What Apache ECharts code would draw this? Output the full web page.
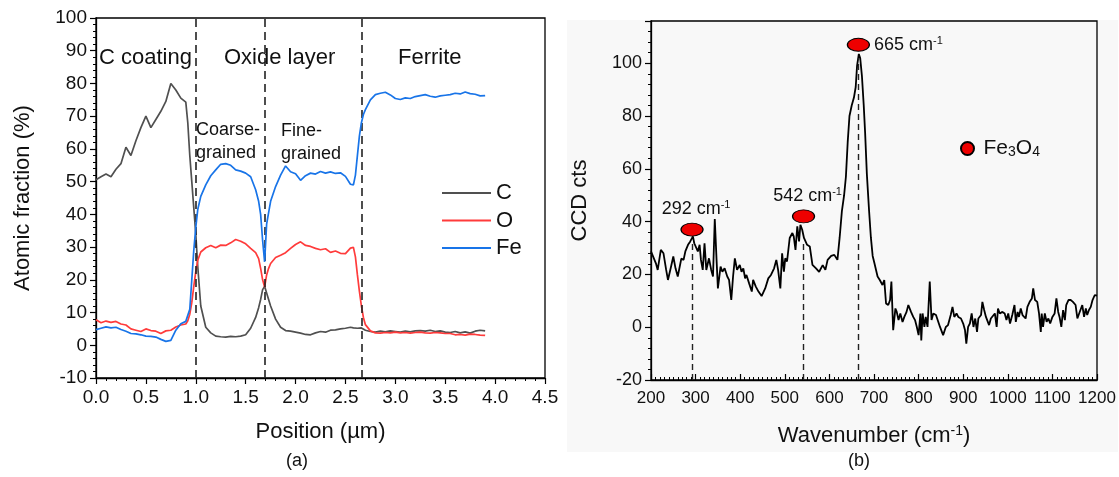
<!DOCTYPE html>
<html>
<head>
<meta charset="utf-8">
<script src="https://cdn.jsdelivr.net/npm/echarts@6/dist/echarts.min.js"></script>
<style>
html,body{margin:0;padding:0;background:#fff;}
#chart{width:1119px;height:477px;}
</style>
</head>
<body>
<div id="chart"></div>
<script>
// ---------- Panel (a): EDS line profile ----------
const positions = [0,0.05,0.1,0.15,0.2,0.25,0.3,0.35,0.4,0.45,0.5,0.55,0.6,0.65,0.7,0.75,0.8,0.85,0.9,
  0.92,0.94,0.96,0.98,1.0,1.02,1.05,
  1.1,1.15,1.2,1.25,1.3,1.35,1.4,1.45,1.5,1.55,1.6,
  1.63,1.65,1.67,1.69,1.71,1.73,1.75,
  1.8,1.85,1.9,1.95,2.0,2.05,2.1,2.15,2.2,2.25,2.3,2.35,2.4,2.45,2.5,2.55,
  2.58,2.6,2.62,2.64,2.66,2.68,2.7,
  2.75,2.8,2.85,2.9,2.95,3.0,3.05,3.1,3.15,3.2,3.25,3.3,3.35,3.4,3.45,3.5,3.55,3.6,3.65,3.7,3.75,3.8,3.85,3.9];
const carbon = [50.6,51.5,52.3,51.5,53.8,55.5,60.5,58,62.5,66.5,70,66.5,69,71.5,74.5,80,78,75.5,74.3,
  68,58,50,42,34,24,12,
  5.5,3.8,2.8,2.6,2.5,2.7,2.6,2.8,3.2,5.2,8.5,
  11.5,14,17,18,16,14,12,
  8,5.5,4.5,4.3,4,3.7,3.3,3.2,3.8,4.2,4,4.6,4.7,5,5.2,5.5,
  5.3,5.6,5.2,5.4,5.3,5,4.6,
  4.2,4,4.3,4.1,4.4,4.2,4,4.3,4.1,4.4,4.5,4.3,4.6,4.2,4.4,4,3.9,4.2,3.8,4.1,3.7,4.3,4.6,4.4];
const oxygen = [7.8,6.9,7.4,7,7.3,6.5,6.2,5,4.6,4.2,5,4.5,4.3,3.6,4.4,4.6,5.6,6.2,6.5,
  7.5,9.5,13,18,22.5,26,28.5,
  29.8,30.5,29.8,30.6,30.5,31.3,32.3,31.8,31,29.6,28.3,
  26.5,23.5,20,17.8,21.5,23.5,25,
  26.8,27.5,28.3,29.6,30.8,31.6,30.5,30.2,29.6,29.2,29.5,28.4,28.8,28.1,28,29.7,
  29.9,27,21.5,16.5,12,8.5,6.3,
  4.4,3.8,3.7,3.9,3.8,4,3.8,3.9,3.7,3.9,4,3.8,3.7,3.9,3.8,3.6,3.6,3.2,3.3,3.1,3.4,3.3,3.1,3];
const iron = [4.8,5.2,5.6,5.3,5.5,4.8,4.3,3.6,3.5,3.2,2.8,2.7,2.5,1.8,1.2,1.5,4.6,6.6,7.3,
  7.8,11,20,29,36,41.5,45.5,
  49,51.8,53.6,55.3,55.5,55,53.6,53.2,52.6,51.5,47.5,
  44,40,32,25.5,37,40.5,44,
  48.5,52,54.8,53,52.4,50.4,51.8,52.6,52.3,53.1,52.6,53,52.5,52.7,51.6,49.2,
  49,52,58,64,68,70.5,72,
  75,76.6,77,77.3,76.5,75.4,75.1,75.6,75.4,76,76.3,76.6,76.1,75.8,76.2,76.4,76.6,77,76.8,77.4,76.9,76.7,76.2,76.3];
const boundaries = [1.0, 1.69, 2.66];
const seriesNamesA = ['C', 'O', 'Fe'];
const xTicksA = [0, 4.5, 0.5];       // min, max, interval
const yTicksA = [-10, 100, 10];

// ---------- Panel (b): Raman spectrum ----------
const wavenumbers = [200,204,211,215,222,228,234,238,245,250,255,260,268,273,277,283,288,294,297,301,305,309,312,316,320,324,330,335,339,343,347,350,356,360,365,371,375,380,384,388,393,399,403,407,411,414,420,426,429,435,441,448,456,463,469,473,476,481,485,490,494,498,501,505,511,517,520,524,528,532,535,539,543,547,550,556,562,570,577,585,591,596,604,611,618,623,628,633,637,641,645,650,655,659,662,666,669,673,677,680,684,689,693,697,701,704,708,713,719,723,727,732,736,739,743,748,751,755,759,764,768,773,777,783,788,792,796,800,804,806,809,813,816,820,825,829,833,839,842,848,855,861,866,872,876,880,885,889,895,900,904,907,911,915,919,923,927,931,934,940,943,947,951,954,958,962,966,971,975,978,982,988,993,997,1001,1005,1010,1015,1018,1022,1025,1029,1033,1037,1040,1044,1049,1054,1057,1061,1066,1070,1074,1076,1079,1083,1087,1091,1095,1100,1105,1109,1113,1116,1120,1124,1128,1131,1136,1141,1146,1152,1156,1160,1163,1167,1171,1175,1178,1182,1186,1190,1195,1200];
const counts = [28.7,28.7,24.2,21.7,29.3,28,21.7,17.9,23,26.8,22.3,19.2,26,25.5,28.7,31.2,32.5,34.4,31.8,32.5,28.7,31.2,25.5,21.7,31.8,21.7,26.1,21.7,19.2,41,25.5,14.7,23,21,22.3,19.2,17.9,10.3,19.2,26.1,21.7,23.6,21,22.3,18.5,19.8,16.6,13.5,17.9,15.4,13.5,11.8,14.7,18.5,19.8,19.2,22.3,25.5,21.7,14.7,28,21,26.1,24.9,33.8,35.7,34.4,29.3,38.2,32.5,38.8,36.9,33.8,34.4,31.2,30.6,23.6,22.3,21,23.5,21.7,25.5,27,27.4,25.5,34,44,50,57,70,80,84,87,91,99,103.5,102,95,84,74,58,44,34,27,24.2,23.6,19.2,17.9,16,17.9,9,8.4,10.3,17.3,-1.1,7.1,5.8,2.7,5.2,2,3.9,5.8,8.4,5.8,3.9,2.7,0.1,-3,5.2,-5,5.2,0.1,3.9,0.1,17.3,2.7,5.2,4.6,3.9,0.1,-3,0.1,0.8,4.6,7.7,3.9,5.2,3.9,3.3,1.4,-1.1,-6.2,0.1,1.4,5.2,0.1,3.3,-1.8,3.3,4.6,9.6,6.5,3.9,4.6,0.8,3.3,3.9,5.2,0.1,7.1,5.2,5.8,5.2,2.7,5.2,1.4,4.6,8.4,2,5.8,3.9,7.1,4.6,5.2,3.3,7.7,9.6,10.9,14.7,10.3,9.6,5.2,-1.8,5.2,0.1,5.2,2,3.3,1.4,3.9,5.2,10.9,5.8,3.9,0.1,6.5,2.7,8.4,10.3,10.3,9.6,8.4,3.3,5.2,5.2,8.4,3.9,7.1,4.6,6.5,7.7,10.3,12.2,12];
const peakWavenumbers = [292, 542, 665];
const peakMarkerHeights = [37, 42, 107];
const peakLineTops = [32, 32, 102];
const peakLabels = ['292', '542', '665'];
const phaseName = 'Fe3O4';
const xTicksB = [200, 1200, 100];
const yTicksB = [-20, 116, 20];

// ---------- build ----------
const FONT = 'Liberation Sans, Arial, sans-serif';
const colorsA = ['#505050', '#ff3b3b', '#1874e8'];
const valuesA = [carbon, oxygen, iron];

function pairs(xs, ys){ return xs.map((x, i) => [x, ys[i]]); }

const chart = echarts.init(document.getElementById('chart'), null, {renderer: 'canvas'});

const axisCommon = {
  axisLine: {show: true, onZero: false, lineStyle: {color: '#000', width: 1.3}},
  splitLine: {show: false},
  axisLabel: {color: '#111', fontFamily: FONT, fontSize: 19},
  nameTextStyle: {color: '#111', fontFamily: FONT, fontSize: 22}
};

const option = {
  animation: false,
  backgroundColor: '#fff',
  textStyle: {fontFamily: FONT},
  graphic: [
    {type: 'rect', z: -100, shape: {x: 567, y: 20, width: 551, height: 432}, style: {fill: '#f8f8f8'}, silent: true},
    {type: 'text', left: 99, top: 47, style: {text: 'C coating', font: '22px ' + FONT, fill: '#111'}},
    {type: 'text', left: 224, top: 47, style: {text: 'Oxide layer', font: '22px ' + FONT, fill: '#111'}},
    {type: 'text', left: 398, top: 47, style: {text: 'Ferrite', font: '22px ' + FONT, fill: '#111'}},
    {type: 'text', left: 196, top: 119, style: {text: 'Coarse-\ngrained', font: '18px ' + FONT, lineHeight: 23, fill: '#111'}},
    {type: 'text', left: 281, top: 120, style: {text: 'Fine-\ngrained', font: '18px ' + FONT, lineHeight: 23, fill: '#111'}},
    {type: 'text', left: 286, top: 452, style: {text: '(a)', font: '18px ' + FONT, fill: '#111'}},
    {type: 'text', left: 848, top: 452, style: {text: '(b)', font: '18px ' + FONT, fill: '#111'}}
  ],
  grid: [
    {left: 96, top: 18, width: 449, height: 360, show: true, borderColor: '#000', borderWidth: 1.3, backgroundColor: 'transparent'},
    {left: 651, top: 21, width: 446, height: 359, show: true, borderColor: '#000', borderWidth: 1.3, backgroundColor: 'transparent'}
  ],
  legend: [
    {
      data: seriesNamesA, orient: 'vertical', left: 437, top: 177,
      itemWidth: 49, itemHeight: 2, itemGap: 5.5, icon: 'rect',
      textStyle: {fontSize: 22, color: '#111', fontFamily: FONT, lineHeight: 22}
    },
    {
      data: [{name: phaseName, icon: 'circle'}], left: 955, top: 133,
      itemWidth: 22, itemHeight: 13, itemGap: 5,
      formatter: () => '{n|Fe}{s|3}{n|O}{s|4}',
      textStyle: {fontSize: 21, color: '#111', fontFamily: FONT,
        rich: {
          n: {fontSize: 21, fontFamily: FONT, color: '#111'},
          s: {fontSize: 14, fontFamily: FONT, color: '#111', verticalAlign: 'bottom'}
        }}
    }
  ],
  xAxis: [
    Object.assign({}, axisCommon, {
      gridIndex: 0, type: 'value', min: xTicksA[0], max: xTicksA[1], interval: xTicksA[2],
      name: 'Position (\u00b5m)', nameLocation: 'middle', nameGap: 43,
      axisTick: {show: true, inside: false, length: 6, lineStyle: {color: '#000', width: 1.2}},
      minorTick: {show: true, splitNumber: 5, length: 3, lineStyle: {color: '#000', width: 1}},
      axisLabel: Object.assign({}, axisCommon.axisLabel, {margin: 10, formatter: v => v.toFixed(1)})
    }),
    Object.assign({}, axisCommon, {
      gridIndex: 1, type: 'value', min: xTicksB[0], max: xTicksB[1], interval: xTicksB[2],
      name: 'Wavenumber (cm{sup|-1})', nameLocation: 'middle', nameGap: 44,
      nameTextStyle: {color: '#111', fontFamily: FONT, fontSize: 22, rich: {sup: {fontSize: 14, fontFamily: FONT, verticalAlign: 'top', padding: [0, 0, 10, 0]}}},
      axisTick: {show: true, inside: true, length: 6, lineStyle: {color: '#000', width: 1.2}},
      minorTick: {show: true, splitNumber: 10, length: 3, lineStyle: {color: '#000', width: 1}},
      axisLabel: Object.assign({}, axisCommon.axisLabel, {margin: 10, fontSize: 17, hideOverlap: false,
        showMinLabel: true, showMaxLabel: true, formatter: v => String(v)})
    })
  ],
  yAxis: [
    Object.assign({}, axisCommon, {
      gridIndex: 0, type: 'value', min: yTicksA[0], max: yTicksA[1], interval: yTicksA[2],
      name: 'Atomic fraction (%)', nameLocation: 'middle', nameGap: 62,
      axisTick: {show: true, inside: false, length: 6, lineStyle: {color: '#000', width: 1.2}},
      minorTick: {show: true, splitNumber: 5, length: 3, lineStyle: {color: '#000', width: 1}},
      axisLabel: Object.assign({}, axisCommon.axisLabel, {margin: 9})
    }),
    Object.assign({}, axisCommon, {
      gridIndex: 1, type: 'value', min: yTicksB[0], max: yTicksB[1], interval: yTicksB[2],
      name: 'CCD cts', nameLocation: 'middle', nameGap: 60,
      axisTick: {show: true, inside: false, length: 6, lineStyle: {color: '#000', width: 1.2}},
      minorTick: {show: true, splitNumber: 5, length: 3, lineStyle: {color: '#000', width: 1}},
      axisLabel: Object.assign({}, axisCommon.axisLabel, {margin: 9, fontSize: 18, showMaxLabel: false,
        formatter: v => (v % 20 === 0 ? String(v) : '')})
    })
  ],
  series: [
    ...seriesNamesA.map((name, k) => ({
      name, type: 'line', xAxisIndex: 0, yAxisIndex: 0,
      data: pairs(positions, valuesA[k]), symbol: 'none', smooth: false,
      lineStyle: {color: colorsA[k], width: 1.7}, itemStyle: {color: colorsA[k]},
      z: 3 + k,
      markLine: k === 0 ? {
        silent: true, symbol: 'none', label: {show: false},
        lineStyle: {color: '#222', type: [8, 5], width: 1.6},
        data: boundaries.map(b => ({xAxis: b}))
      } : undefined
    })),
    {
      name: 'spectrum', type: 'line', xAxisIndex: 1, yAxisIndex: 1,
      data: pairs(wavenumbers, counts), symbol: 'none',
      lineStyle: {color: '#000', width: 1.8}, itemStyle: {color: '#000'},
      markLine: {
        silent: true, symbol: 'none', label: {show: false},
        lineStyle: {color: '#222', type: [6, 4], width: 1.4},
        data: peakWavenumbers.map((w, i) => [{coord: [w, yTicksB[0]]}, {coord: [w, peakLineTops[i]]}])
      }
    },
    {
      name: phaseName, type: 'scatter', xAxisIndex: 1, yAxisIndex: 1,
      symbol: 'circle', symbolSize: [22, 13], z: 10,
      itemStyle: {color: '#ee0000', borderColor: '#000', borderWidth: 1, opacity: 1},
      data: peakWavenumbers.map((w, i) => ({
        value: [w, peakMarkerHeights[i]],
        label: {
          show: true,
          position: i === 2 ? 'right' : 'top',
          distance: 4,
          offset: i === 2 ? [0, 0] : [4, 0],
          formatter: '{a|' + peakLabels[i] + ' cm}{s|-1}',
          rich: {
            a: {fontSize: 18, fontFamily: FONT, color: '#111'},
            s: {fontSize: 11, fontFamily: FONT, color: '#111', verticalAlign: 'top', padding: [0, 0, 8, 0]}
          }
        }
      }))
    }
  ]
};
chart.setOption(option);
</script>
</body>
</html>
